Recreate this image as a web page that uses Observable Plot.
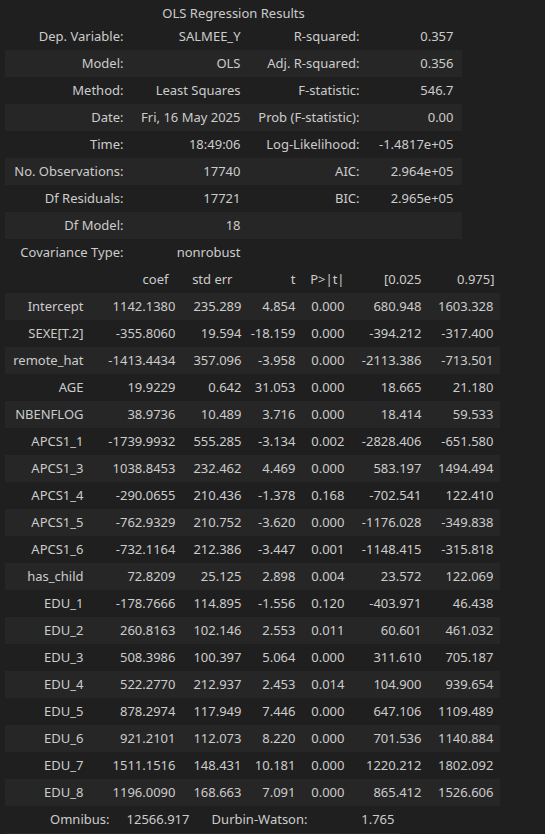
<!DOCTYPE html>
<html>
<head>
<meta charset="utf-8">
<script src="https://cdn.jsdelivr.net/npm/d3@7"></script>
<script src="https://cdn.jsdelivr.net/npm/@observablehq/plot@0.6"></script>
<style>
  html, body { margin: 0; padding: 0; background: #1f1f1f; }
  #chart svg { display: block; }
</style>
</head>
<body>
<div id="chart"></div>
<script>
// model summary (top table)
const title = "OLS Regression Results";
const leftLabels = ["Dep. Variable:", "Model:", "Method:", "Date:", "Time:", "No. Observations:", "Df Residuals:", "Df Model:", "Covariance Type:"];
const leftValues = ["SALMEE_Y", "OLS", "Least Squares", "Fri, 16 May 2025", "18:49:06", "17740", "17721", "18", "nonrobust"];
const rightLabels = ["R-squared:", "Adj. R-squared:", "F-statistic:", "Prob (F-statistic):", "Log-Likelihood:", "AIC:", "BIC:", "", ""];
const rightValues = ["0.357", "0.356", "546.7", "0.00", "-1.4817e+05", "2.964e+05", "2.965e+05", "", ""];

// coefficients table
const headers = ["coef", "std err", "t", "P>|t|", "[0.025", "0.975]"];
const terms = ["Intercept", "SEXE[T.2]", "remote_hat", "AGE", "NBENFLOG", "APCS1_1", "APCS1_3", "APCS1_4", "APCS1_5", "APCS1_6",
  "has_child", "EDU_1", "EDU_2", "EDU_3", "EDU_4", "EDU_5", "EDU_6", "EDU_7", "EDU_8"];
const coef = [1142.1380, -355.8060, -1413.4434, 19.9229, 38.9736, -1739.9932, 1038.8453, -290.0655, -762.9329, -732.1164,
  72.8209, -178.7666, 260.8163, 508.3986, 522.2770, 878.2974, 921.2101, 1511.1516, 1196.0090];
const stdErr = [235.289, 19.594, 357.096, 0.642, 10.489, 555.285, 232.462, 210.436, 210.752, 212.386,
  25.125, 114.895, 102.146, 100.397, 212.937, 117.949, 112.073, 148.431, 168.663];
const tStat = [4.854, -18.159, -3.958, 31.053, 3.716, -3.134, 4.469, -1.378, -3.620, -3.447,
  2.898, -1.556, 2.553, 5.064, 2.453, 7.446, 8.220, 10.181, 7.091];
const pValue = [0.000, 0.000, 0.000, 0.000, 0.000, 0.002, 0.000, 0.168, 0.000, 0.001,
  0.004, 0.120, 0.011, 0.000, 0.014, 0.000, 0.000, 0.000, 0.000];
const ciLow = [680.948, -394.212, -2113.386, 18.665, 18.414, -2828.406, 583.197, -702.541, -1176.028, -1148.415,
  23.572, -403.971, 60.601, 311.610, 104.900, 647.106, 701.536, 1220.212, 865.412];
const ciHigh = [1603.328, -317.400, -713.501, 21.180, 59.533, -651.580, 1494.494, 122.410, -349.838, -315.818,
  122.069, 46.438, 461.032, 705.187, 939.654, 1109.489, 1140.884, 1802.092, 1526.606];

// diagnostics row (cut off at the bottom)
const diagLabels = ["Omnibus:", "Durbin-Watson:"];
const diagValues = ["12566.917", "1.765"];

// layout (column right edges in px, row index per block)
const topCols = [123, 240, 359, 453];
const coefCols = [83, 175, 241, 295, 344, 421, 493];
const headCols = [168, 232, 295, 344, 421, 494];
const diagCols = [109, 189, 307, 394];
const headRow = leftLabels.length;      // 9
const firstCoefRow = headRow + 1;       // 10
const diagRow = firstCoefRow + terms.length; // 29

// build cells
const cells = [];
leftLabels.forEach((s, i) => {
  cells.push({row: i, x: topCols[0], text: s});
  cells.push({row: i, x: topCols[1], text: leftValues[i]});
  cells.push({row: i, x: topCols[2], text: rightLabels[i]});
  cells.push({row: i, x: topCols[3], text: rightValues[i]});
});
headers.forEach((h, j) => cells.push({row: headRow, x: headCols[j], text: h}));
terms.forEach((t, i) => {
  const r = firstCoefRow + i;
  const vals = [t, coef[i].toFixed(4), stdErr[i].toFixed(3), tStat[i].toFixed(3), pValue[i].toFixed(3), ciLow[i].toFixed(3), ciHigh[i].toFixed(3)];
  vals.forEach((v, j) => cells.push({row: r, x: coefCols[j], text: v}));
});
[diagLabels[0], diagValues[0], diagLabels[1], diagValues[1]].forEach((v, j) =>
  cells.push({row: diagRow, x: diagCols[j], text: v}));

// zebra stripes
const stripes = [];
for (let i = 1; i < headRow; i += 2) stripes.push({row: i, x1: 5, x2: 462});
for (let i = firstCoefRow; i < diagRow; i += 2) stripes.push({row: i, x1: 5, x2: 500});
stripes.push({row: diagRow + 1, x1: 5, x2: 400});

const rows = d3.range(-1, diagRow + 3);

const chart = Plot.plot({
  width: 545,
  height: 834,
  margin: 0,
  style: {background: "#1f1f1f", color: "#cccccc", fontFamily: "'Noto Sans', 'Open Sans', sans-serif", fontSize: "13px"},
  x: {domain: [0, 545], range: [0, 545], axis: null},
  y: {type: "band", domain: rows, range: [-4.5, -4.5 + 27 * rows.length], padding: 0, axis: null},
  marks: [
    Plot.barX(stripes, {x1: "x1", x2: "x2", y: "row", fill: "#262626"}),
    Plot.text([title], {x: 233, y: () => -1, text: (d) => d, textAnchor: "middle", fill: "currentColor", fontSize: 13, dy: 4}),
    Plot.text(cells, {x: "x", y: "row", text: "text", textAnchor: "end", fill: "currentColor", fontSize: 13})
  ]
});

d3.select("#chart").append(() => chart);
</script>
</body>
</html>
